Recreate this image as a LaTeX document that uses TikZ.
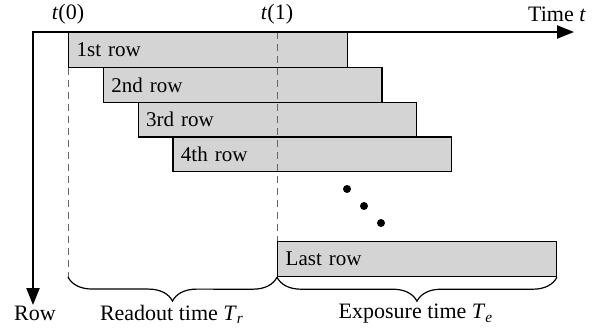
\documentclass[tikz,border=0pt]{standalone}
\usepackage{fontspec}
\setmainfont{Liberation Serif}
\usetikzlibrary{arrows.meta,decorations.pathreplacing}
\tikzset{
  axis/.style={line width=1.1pt, arrows={Triangle[length=8.5pt,width=6.5pt]-Triangle[length=8.5pt,width=6.5pt]}},
  rowbox/.style={draw=black, line width=0.7pt, fill=black!17, anchor=north west,
    minimum width=139.25pt, minimum height=17.4pt, text width=131.25pt, inner xsep=4pt,
    align=left, font=\fontsize{10.5}{12}\selectfont},
  guide/.style={draw=black!60, line width=0.5pt, dash pattern=on 3.5pt off 2.5pt},
  brc/.style={draw=black, line width=0.6pt, decorate, decoration={brace, amplitude=12pt}},
  lbl/.style={font=\fontsize{11}{13}\selectfont, inner sep=0pt},
  dotc/.style={fill=black, circle, inner sep=0pt, minimum size=4pt}
}
\begin{document}
\begin{tikzpicture}[x=0.5pt,y=-0.5pt]
\useasboundingbox (0,0) rectangle (597,327);
\coordinate (O) at (33,32);
\coordinate (T) at (574,32);
\coordinate (R) at (33,305);
\node[rowbox] (r1) at (68,32) {1st row};
\node[rowbox] (r2) at (102.75,66.75) {2nd row};
\node[rowbox] (r3) at (137.5,101.5) {3rd row};
\node[rowbox] (r4) at (172.25,136.25) {4th row};
\node[rowbox] (rl) at (277,241) {Last row};
\coordinate (b0) at (68,277);
\coordinate (t1) at (277,32);
\draw[guide] (r1.south west) -- (b0);
\draw[guide] (t1) -- (rl.north west);
\draw[axis] (T) -- (O) -- (R);
\node[dotc] (d1) at (347,189) {};
\node[dotc] (d2) at (364,206) {};
\node[dotc] (d3) at (381,223) {};
\draw[brc] (rl.south west) -- (b0);
\draw[brc] (rl.south east) -- (rl.south west);
\node[lbl] (lr) at (172,314) {Readout time \textit{T}\textsubscript{\textit{r}}};
\node[lbl] (le) at (416,314) {Exposure time \textit{T}\textsubscript{\textit{e}}};
\node[lbl] (l0) at (68,14) {\textit{t}(0)};
\node[lbl] (l1) at (277,14) {\textit{t}(1)};
\node[lbl] (lt) at (557,14) {Time \textit{t}};
\node[lbl] (lrow) at (35,313) {Row};
\end{tikzpicture}
\end{document}
